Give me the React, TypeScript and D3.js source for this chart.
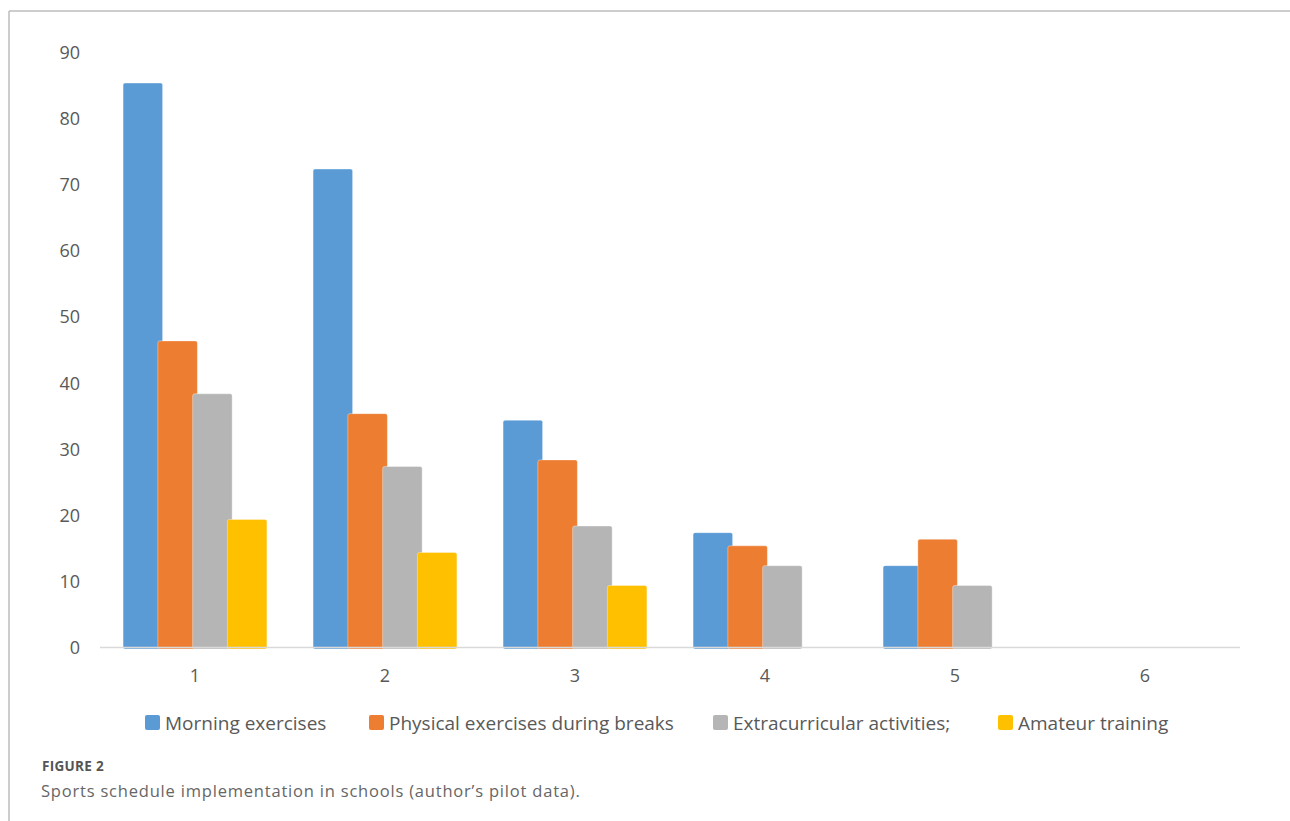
import React from "react";
import * as d3 from "d3";

const categories = ["1", "2", "3", "4", "5", "6"];
const seriesNames = [
  "Morning exercises",
  "Physical exercises during breaks",
  "Extracurricular activities;",
  "Amateur training",
];
const morning = [85.3, 72.3, 34.3, 17.3, 12.3, 0];
const breaks = [46.3, 35.3, 28.3, 15.3, 16.3, 0];
const extracurricular = [38.3, 27.3, 18.3, 12.3, 9.3, 0];
const amateur = [19.3, 14.3, 9.3, 0, 0, 0];
const yTicks = [0, 10, 20, 30, 40, 50, 60, 70, 80, 90];
const colors = ["#5b9bd5", "#ed7d31", "#b5b5b5", "#ffc000"];

const W = 1290;
const H = 821;
const FONT = "'Open Sans', 'Noto Sans', sans-serif";

export default function App() {
  const series = [morning, breaks, extracurricular, amateur];
  const x = d3.scaleBand<string>().domain(categories).range([100, 1240]).padding(0);
  const y = d3.scaleLinear().domain([0, 90]).range([647, 52]);
  const step = x.bandwidth() * 0.183;
  const barW = x.bandwidth() * 0.208;
  const groupSpan = step * (series.length - 1) + barW;
  const offset = (x.bandwidth() - groupSpan) / 2;

  const legendX = [145, 369, 713, 998];

  return (
    <svg
      width={W}
      height={H}
      style={{ position: "absolute", left: 0, top: 0, background: "#fff" }}
    >
      <line x1={9} y1={11} x2={W} y2={11} stroke="#bdbdbd" strokeWidth={1.5} />
      <line x1={9} y1={11} x2={9} y2={H} stroke="#bdbdbd" strokeWidth={1.5} />

      {yTicks.map((t) => (
        <text
          key={t}
          x={80}
          y={y(t)}
          textAnchor="end"
          dominantBaseline="central"
          fontFamily={FONT}
          fontSize={18}
          fill="#595959"
        >
          {t}
        </text>
      ))}

      {series.map((vals, si) =>
        vals.map((v, ci) =>
          v > 0 ? (
            <rect
              key={`${si}-${ci}`}
              x={(x(categories[ci]) ?? 0) + offset + si * step}
              y={y(v)}
              width={barW}
              height={y(0) - y(v) + 2}
              rx={2}
              fill={colors[si]}
              stroke="rgba(255,255,255,0.35)"
              strokeWidth={1}
            />
          ) : null
        )
      )}

      <line x1={100} y1={647.5} x2={1240} y2={647.5} stroke="#d9d9d9" strokeWidth={1.5} />

      {categories.map((c) => (
        <text
          key={c}
          x={(x(c) ?? 0) + x.bandwidth() / 2}
          y={675}
          textAnchor="middle"
          dominantBaseline="central"
          fontFamily={FONT}
          fontSize={18}
          fill="#595959"
        >
          {c}
        </text>
      ))}

      {seriesNames.map((n, i) => (
        <g key={n}>
          <rect x={legendX[i]} y={715} width={15} height={15} rx={2} fill={colors[i]} />
          <text
            x={legendX[i] + 20}
            y={723}
            dominantBaseline="central"
            fontFamily={FONT}
            fontSize={19}
            fill="#595959"
          >
            {n}
          </text>
        </g>
      ))}

      <text
        x={42}
        y={771}
        fontFamily={FONT}
        fontSize={13.5}
        fontWeight={700}
        letterSpacing={0.3}
        fill="#555"
      >
        FIGURE 2
      </text>
      <text x={41} y={797} fontFamily={FONT} fontSize={16.5} letterSpacing={0.8} fill="#666">
        Sports schedule implementation in schools (author’s pilot data).
      </text>
    </svg>
  );
}
